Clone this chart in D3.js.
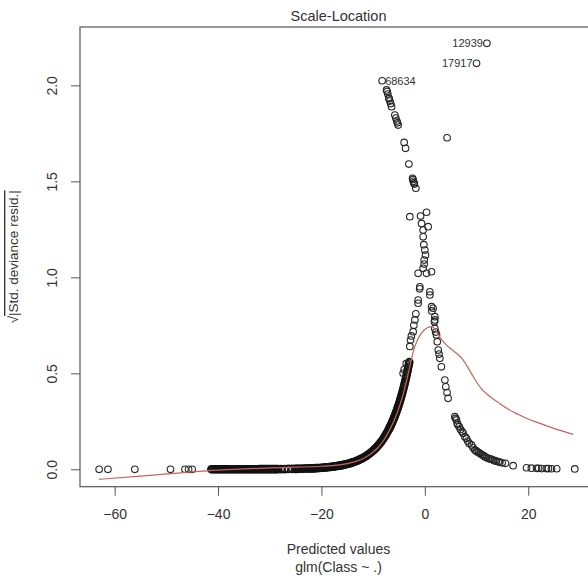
<!DOCTYPE html>
<html>
<head>
<meta charset="utf-8">
<script src="https://cdn.jsdelivr.net/npm/d3@7"></script>
<style>
  html, body { margin: 0; padding: 0; background: #fff; }
  svg { display: block; font-family: "Liberation Sans", Arial, sans-serif; }
</style>
</head>
<body>
<svg id="chart" width="588" height="579"></svg>
<script>
// ---- Data: predicted values (x) vs sqrt(|std. deviance residual|) (y) ----

// Dense run of observations along the lower curve
const bandX = [
  -41.3,-41.0,-40.7,-40.4,-40.1,-39.8,-39.5,-39.2,-38.9,-38.6,-38.3,-38.0,-37.7,-37.4,-37.1,-36.8,
  -36.5,-36.2,-35.9,-35.6,-35.3,-35.0,-34.7,-34.4,-34.1,-33.8,-33.5,-33.2,-32.9,-32.6,-32.3,
  -32.0,-31.7,-31.4,-31.1,-30.8,-30.5,-30.2,-29.9,-29.6,-29.3,-29.0,-28.7,-28.4,
  -27.8,-27.1,-26.4,-25.7,
  -25.1,-24.8,-24.5,-24.2,-23.9,-23.6,-23.3,-23.0,-22.7,-22.4,-22.1,-21.8,-21.5,-21.2,-20.9,-20.6,-20.3,
  -20.0,-19.75,-19.5,-19.25,-19.0,-18.75,-18.5,-18.25,-18.0,-17.75,-17.5,-17.25,-17.0,-16.75,-16.5,-16.25,
  -16.0,-15.75,-15.5,-15.25,-15.0,-14.75,-14.5,-14.25,-14.0,-13.75,-13.5,-13.25,-13.0,-12.75,-12.5,-12.25,
  -12.0,-11.75,-11.5,-11.25,-11.0,-10.75,-10.5,-10.25,-10.0,
  -9.8,-9.6,-9.4,-9.2,-9.0,-8.8,-8.6,-8.4,-8.2,-8.0,-7.8,-7.6,-7.4,-7.2,-7.0,
  -6.9,-6.8,-6.7,-6.6,-6.5,-6.4,-6.3,-6.2,-6.1,-6.0,
  -5.9,-5.8,-5.7,-5.6,-5.5,-5.4,-5.3,-5.2,-5.1,-5.0,
  -4.9,-4.8,-4.7,-4.6,-4.5,-4.4,-4.3,-4.2,-4.1,-4.0,
  -3.9,-3.8,-3.7,-3.6,-3.5,-3.4,-3.3,-3.2,-3.1,-3.0
];
const bandY = [
  0,0,0,0,0,0,0,0,0,0,0,0,0,0,0,0,
  0,0,0,0,0,0,0,0,0,0,0,0,0,0,0,
  0.001,0.001,0.001,0.001,0.001,0.001,0.001,0.001,0.001,0.001,0.001,0.001,0.001,
  0.001,0.001,0.002,0.002,
  0.002,0.002,0.003,0.003,0.003,0.003,0.004,0.004,0.004,0.004,0.005,0.005,0.005,0.006,0.006,0.007,0.007,
  0.0080,0.0085,0.0091,0.0097,0.0103,0.0110,0.0117,0.0124,0.0132,0.0141,0.0150,0.0159,0.0170,0.0181,0.0192,0.0205,
  0.0218,0.0232,0.0247,0.0263,0.0280,0.0298,0.0317,0.0337,0.0359,0.0382,0.0407,0.0433,0.0461,0.0491,0.0523,0.0556,
  0.0592,0.0630,0.0671,0.0714,0.0760,0.0809,0.0862,0.0917,0.0976,
  0.1026,0.1079,0.1134,0.1192,0.1254,0.1318,0.1385,0.1456,0.1531,0.1609,0.1692,0.1779,0.1870,0.1966,0.2066,
  0.2119,0.2172,0.2227,0.2284,0.2341,0.2401,0.2461,0.2524,0.2588,0.2653,
  0.2720,0.2789,0.2860,0.2932,0.3005,0.3081,0.3159,0.3239,0.3321,0.3404,
  0.3491,0.3579,0.3669,0.3762,0.3856,0.3953,0.4053,0.4156,0.4261,0.4365,
  0.4476,0.4589,0.4705,0.4824,0.4939,0.5064,0.5192,0.5324,0.5458,0.5583
];

// Remaining, more scattered observations
const ptsX = [
  -63.0,-61.3,-56.1,-49.2,-46.4,-45.7,-45.0,
  -8.26,-7.41,-7.3,-7.16,-6.96,-6.9,-6.77,-6.6,-6.44,
  -5.8,-5.61,-5.42,-5.3,-5.16,-4.0,-3.73,-3.09,
  -2.38,-2.3,-2.22,-2.1,-2.03,-1.74,
  -2.9,-0.83,0.33,-0.64,0.64,-0.33,-0.33,-0.2,0.0,0.13,-0.13,-0.13,-0.33,-1.3,0.33,1.3,
  -0.97,-1.0,0.97,0.97,-1.3,-1.3,1.6,1.3,1.35,1.93,1.93,1.85,
  -1.74,-1.93,-2.13,-2.26,-2.6,-2.77,-2.9,-4.2,-4.0,-3.6,
  4.3,10.0,12.0,
  1.93,2.1,2.26,2.4,2.6,2.75,2.9,3.2,3.87,4.06,4.3,4.5,
  5.8,5.95,6.13,6.25,6.4,6.64,6.9,7.2,7.41,7.74,8.06,8.3,8.57,9.03,9.3,9.67,9.9,10.12,
  10.4,10.64,10.9,11.16,11.4,11.61,11.9,12.25,12.6,12.9,13.2,13.54,13.8,14.18,14.5,14.95,15.6,
  17.08,19.67,20.6,21.6,22.0,22.6,23.5,23.9,24.5,25.5,29.0
];
const ptsY = [
  0,0,0,0,0,0,0,
  2.024,1.976,1.968,1.955,1.934,1.93,1.918,1.905,1.889,
  1.845,1.83,1.814,1.805,1.793,1.703,1.672,1.59,
  1.516,1.51,1.50,1.492,1.486,1.464,
  1.316,1.319,1.339,1.281,1.264,1.246,1.211,1.17,1.142,1.116,1.09,1.069,1.047,1.021,1.021,1.029,
  0.951,0.94,0.925,0.908,0.882,0.865,0.839,0.847,0.825,0.795,0.778,0.769,
  0.81,0.778,0.75,0.717,0.695,0.673,0.64,0.50,0.52,0.55,
  1.727,2.115,2.219,
  0.734,0.715,0.70,0.665,0.621,0.60,0.578,0.534,0.465,0.43,0.40,0.37,
  0.274,0.265,0.257,0.240,0.232,0.222,0.208,0.196,0.188,0.170,0.161,0.147,0.135,0.127,0.113,0.101,0.097,0.092,
  0.087,0.083,0.078,0.074,0.070,0.066,0.061,0.057,0.054,0.052,0.048,0.045,0.042,0.040,0.037,0.034,0.031,
  0.019,0.008,0.006,0.005,0.005,0.004,0.004,0.004,0.003,0.003,0.002
];

// Smoothed trend (lowess)
const smoothX = [-63,-55,-48,-41,-35,-30,-25,-20,-17,-15,-13,-12,-11,-10,-9,-8,-7,-6,-5,-4,-3.5,-3,-2.5,-2,-1.5,-1,-0.5,0,0.5,1,1.5,
  2,2.5,3,4,5,6,7,8,9,10,11,12,13,14,16,18,20,22,24,26,28.7];
const smoothY = [-0.052,-0.036,-0.02,-0.006,0.002,0.007,0.011,0.016,0.022,0.03,0.044,0.055,0.07,0.09,0.115,0.15,0.195,0.25,0.32,0.41,0.465,0.525,0.585,0.635,0.668,0.695,0.715,0.728,0.737,0.742,0.743,
  0.728,0.705,0.685,0.652,0.628,0.607,0.583,0.545,0.50,0.455,0.418,0.392,0.37,0.352,0.315,0.287,0.262,0.242,0.222,0.204,0.182];

// Identified extreme observations
const idLabels = ["12939", "17917", "68634"];
const idX = [12.0, 10.0, -8.26];
const idY = [2.219, 2.115, 2.024];

// Axis ticks
const xTicks = [-60, -40, -20, 0, 20];
const yTicks = [0, 0.5, 1, 1.5, 2];

// ---- Layout ----
const box = { left: 80, top: 27, right: 597, bottom: 486.7 };
const svg = d3.select("#chart");

const x = d3.scaleLinear().domain([-66.7, 33.3]).range([box.left, box.right]);
const y = d3.scaleLinear().domain([-0.0906, 2.304]).range([box.bottom, box.top]);

const ink = "#262626";
const frame = "#555";

// Dense run: heavily overplotted, so drawn with a heavier outline
svg.append("g")
  .selectAll("circle")
  .data(bandX.map((v, i) => [v, bandY[i]]))
  .join("circle")
  .attr("cx", d => x(d[0]))
  .attr("cy", d => y(d[1]))
  .attr("r", 3.4)
  .attr("fill", "none")
  .attr("stroke", "#111")
  .attr("stroke-width", 1.8);

// Scattered points
svg.append("g")
  .selectAll("circle")
  .data(ptsX.map((v, i) => [v, ptsY[i]]))
  .join("circle")
  .attr("cx", d => x(d[0]))
  .attr("cy", d => y(d[1]))
  .attr("r", 3.3)
  .attr("fill", "none")
  .attr("stroke", ink)
  .attr("stroke-width", 1.1);

// Smoother
svg.append("path")
  .datum(smoothX.map((v, i) => [v, smoothY[i]]))
  .attr("fill", "none")
  .attr("stroke", "#c2655c")
  .attr("stroke-width", 1.2)
  .attr("d", d3.line().x(d => x(d[0])).y(d => y(d[1])).curve(d3.curveMonotoneX));

// Labels of identified observations
svg.append("g")
  .selectAll("text")
  .data(idLabels)
  .join("text")
  .attr("x", (d, i) => idX[i] > 0 ? x(idX[i]) - 4 : x(idX[i]) + 3)
  .attr("y", (d, i) => y(idY[i]))
  .attr("text-anchor", (d, i) => idX[i] > 0 ? "end" : "start")
  .attr("dominant-baseline", "central")
  .attr("font-size", 11)
  .attr("fill", "#333")
  .text(d => d);

// Plot frame
svg.append("rect")
  .attr("x", box.left).attr("y", box.top)
  .attr("width", box.right - box.left).attr("height", box.bottom - box.top)
  .attr("fill", "none").attr("stroke", frame).attr("stroke-width", 1.2);

// X axis
const gx = svg.append("g")
  .attr("transform", `translate(0,${box.bottom})`)
  .call(d3.axisBottom(x).tickValues(xTicks).tickSize(9).tickPadding(13).tickFormat(d3.format("d")));
gx.select(".domain").remove();
gx.selectAll("line").attr("stroke", frame);
gx.selectAll("text").attr("font-size", 14).attr("fill", "#333").attr("font-family", null);

// Y axis
const gy = svg.append("g")
  .attr("transform", `translate(${box.left},0)`)
  .call(d3.axisLeft(y).tickValues(yTicks).tickSize(9).tickFormat(d3.format(".1f")));
gy.select(".domain").remove();
gy.selectAll("line").attr("stroke", frame);
gy.selectAll("text")
  .attr("font-size", 14).attr("fill", "#333").attr("font-family", null)
  .attr("transform", "rotate(-90)")
  .attr("x", 0).attr("y", -28).attr("dy", null)
  .attr("text-anchor", "middle")
  .attr("dominant-baseline", "central");

// Title and axis titles
svg.append("text")
  .attr("x", (box.left + box.right) / 2).attr("y", 16)
  .attr("text-anchor", "middle").attr("dominant-baseline", "central")
  .attr("font-size", 14.5).attr("fill", "#333")
  .text("Scale-Location");

svg.append("text")
  .attr("x", (box.left + box.right) / 2).attr("y", 549)
  .attr("text-anchor", "middle").attr("dominant-baseline", "central")
  .attr("font-size", 14).attr("fill", "#333")
  .text("Predicted values");

svg.append("text")
  .attr("x", (box.left + box.right) / 2).attr("y", 567)
  .attr("text-anchor", "middle").attr("dominant-baseline", "central")
  .attr("font-size", 14).attr("fill", "#333")
  .text("glm(Class ~ .)");

const yl = svg.append("text")
  .attr("transform", `translate(13,${(box.top + box.bottom) / 2}) rotate(-90)`)
  .attr("text-anchor", "middle").attr("dominant-baseline", "central")
  .attr("font-size", 13.5).attr("fill", "#333");
yl.append("tspan").text("\u221A");
yl.append("tspan").style("text-decoration", "overline").text("|Std. deviance resid.|");
</script>
</body>
</html>
